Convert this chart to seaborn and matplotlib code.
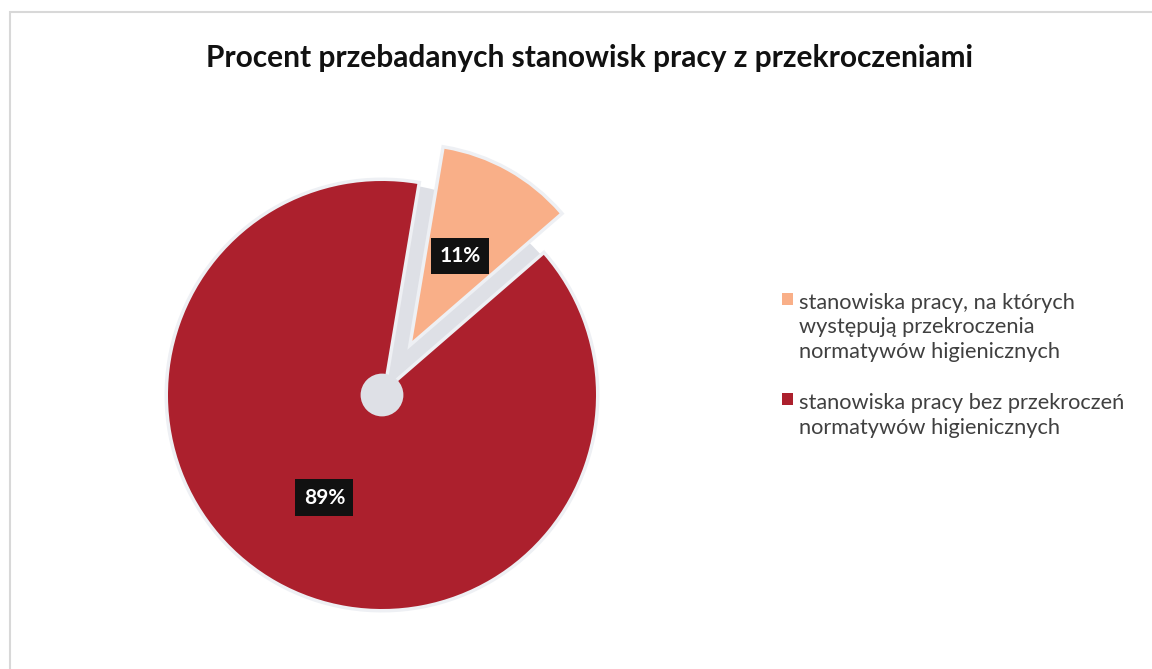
import numpy as np
import seaborn as sns
import matplotlib.pyplot as plt
import matplotlib.patheffects as pe
from matplotlib.patches import Circle, Rectangle, Wedge

# Data.
categories = [
    "stanowiska pracy, na których\nwystępują przekroczenia\nnormatywów higienicznych",
    "stanowiska pracy bez przekroczeń\nnormatywów higienicznych",
]
shares = [11, 89]
colors = ["#F9AF88", "#AC202D"]
explode = [0.29, 0]

TITLE = "Procent przebadanych stanowisk pracy z przekroczeniami"
GAP_COLOR = "#DEE0E6"

sns.set_theme(style="white")
plt.rcParams["font.family"] = ["Lato", "DejaVu Sans"]

fig = plt.figure(figsize=(11.52, 6.69), dpi=100)
fig.patch.set_facecolor("white")

# Light gray chart border (left/top visible, the rest is cropped off).
fig.patches.append(Rectangle((10 / 1152, -0.01), 1.02, (669 - 12) / 669 + 0.01,
                             transform=fig.transFigure, fill=False,
                             edgecolor="#D8D8D8", linewidth=1.5))

# Pie axes: centre at (382, 395) px, radius 214 px.
lim = 1.25
size = 2 * lim * 214
ax = fig.add_axes([(382 - size / 2) / 1152, (669 - 395 - size / 2) / 669,
                   size / 1152, size / 669])

wedges, texts, autotexts = ax.pie(
    shares, colors=colors, explode=explode, startangle=80.5, counterclock=False,
    autopct="%d%%", pctdistance=0.55,
    wedgeprops=dict(edgecolor="none", linewidth=0, zorder=3),
    textprops=dict(color="white", fontsize=15, fontweight="bold", zorder=6),
)

# Smaller exploded slice, gray gap where it came out of the pie, and centre dot.
small = wedges[0]
small.set_radius(0.91)
ax.add_patch(Wedge((0, 0), 0.99, small.theta1, small.theta2,
                   facecolor=GAP_COLOR, edgecolor="none", zorder=2))
ax.add_patch(Circle((0, 0), 0.1, facecolor=GAP_COLOR, edgecolor="none", zorder=5))

# Move the small slice label to the middle of its (smaller) wedge.
mid = np.deg2rad((small.theta1 + small.theta2) / 2)
cx, cy = small.center
autotexts[0].set_position((cx + 0.5 * 0.91 * np.cos(mid), cy + 0.5 * 0.91 * np.sin(mid)))

for w in wedges:
    w.set_path_effects([pe.withStroke(linewidth=5, foreground="#EEF0F4")])

for t in autotexts:
    t.set_bbox(dict(boxstyle="square,pad=0.4", facecolor="#111111", edgecolor="none"))

ax.set_xlim(-lim, lim)
ax.set_ylim(-lim, lim)
ax.set_aspect("equal")
ax.axis("off")

fig.text(590 / 1152, 1 - 58 / 669, TITLE, ha="center", va="center",
         fontsize=21.5, fontweight="bold", color="#111111")

handles = [Rectangle((0, 0), 1, 1, facecolor=c, edgecolor="none") for c in colors]
leg = fig.legend(handles, categories, loc="upper left", bbox_to_anchor=(762 / 1152, 1 - 273 / 669),
                 frameon=False, fontsize=15.7, labelcolor="#404040",
                 handlelength=0.5, handleheight=0.5, handletextpad=0.3, labelspacing=1.4)
for t in leg.get_texts():
    t.set_linespacing(1.3)

# Put each colour square next to the first line of its label.
for column in leg._legend_handle_box.get_children():
    for row in column.get_children():
        row.align = "top"

fig.savefig("out.png", dpi=100)
